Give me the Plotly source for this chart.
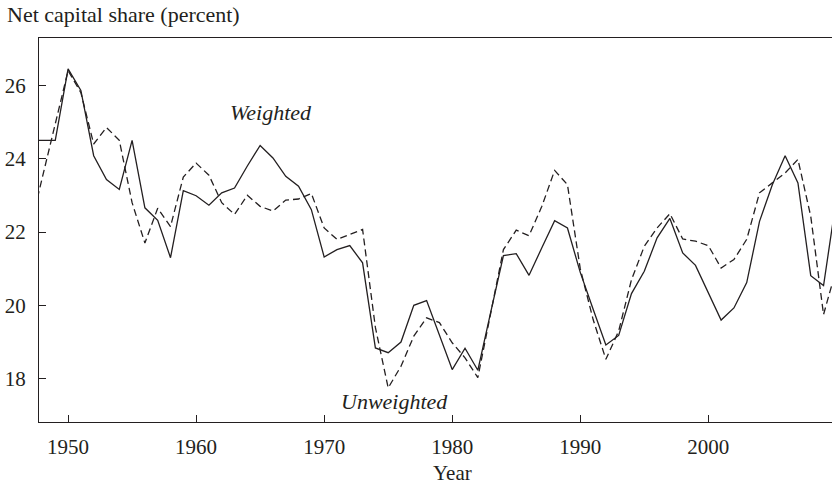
import plotly.graph_objects as go

# Años de la serie
years = list(range(1947, 2011))

# Participación neta del capital, ponderada (línea continua)
weighted = [
    24.5, 24.5, 24.5, 26.45, 25.86, 24.08, 23.43, 23.16, 24.50, 22.66,
    22.32, 21.30, 23.13, 22.99, 22.73, 23.07, 23.20, 23.80, 24.36, 24.02,
    23.52, 23.25, 22.61, 21.32, 21.52, 21.63, 21.16, 18.84, 18.71, 19.00,
    20.00, 20.13, 19.16, 18.25, 18.83, 18.23, 19.80, 21.36, 21.41, 20.82,
    21.57, 22.31, 22.11, 20.90, 19.90, 18.92, 19.18, 20.32, 20.93, 21.84,
    22.37, 21.43, 21.09, 20.34, 19.60, 19.93, 20.62, 22.29, 23.29, 24.08,
    23.34, 20.81, 20.54, 22.90,
]

# Participación neta del capital, no ponderada (línea discontinua)
unweighted = [
    22.05, 23.50, 24.95, 26.40, 25.80, 24.40, 24.85, 24.50, 22.80, 21.70,
    22.65, 22.15, 23.50, 23.88, 23.55, 22.80, 22.48, 23.00, 22.70, 22.57,
    22.87, 22.90, 23.05, 22.11, 21.80, 21.93, 22.07, 19.40, 17.75, 18.34,
    19.16, 19.66, 19.53, 18.98, 18.57, 18.03, 19.80, 21.52, 22.05, 21.90,
    22.70, 23.68, 23.29, 21.00, 19.62, 18.53, 19.30, 20.70, 21.61, 22.11,
    22.50, 21.81, 21.75, 21.63, 21.02, 21.25, 21.80, 23.07, 23.34, 23.61,
    23.98, 22.43, 19.75, 21.00,
]

x_ticks = [1950, 1960, 1970, 1980, 1990, 2000]
y_ticks = [18, 20, 22, 24, 26]

INK = "#231f20"
FONT = "Liberation Serif"
SIZE = 22

fig = go.Figure()
fig.add_trace(go.Scatter(
    x=years, y=weighted, mode="lines", name="Weighted",
    line=dict(color=INK, width=1.3),
))
fig.add_trace(go.Scatter(
    x=years, y=unweighted, mode="lines", name="Unweighted",
    line=dict(color=INK, width=1.3, dash="7px,4px"),
))

# Etiquetas de las series dentro del gráfico
fig.add_annotation(x=1965.84, y=25.26, text="<i>Weighted</i>", showarrow=False,
                   font=dict(size=SIZE, color=INK, family=FONT))
fig.add_annotation(x=1975.5, y=17.39, text="<i>Unweighted</i>", showarrow=False,
                   font=dict(size=SIZE, color=INK, family=FONT))
# Título del eje x
fig.add_annotation(x=1980, y=-0.1328, xref="x", yref="paper", text="Year",
                   showarrow=False, yanchor="middle", borderpad=0,
                   font=dict(size=21, color=INK, family=FONT))

fig.update_layout(
    width=832, height=486,
    margin=dict(l=39, r=0, t=38, b=64),
    paper_bgcolor="white", plot_bgcolor="white",
    showlegend=False,
    font=dict(family=FONT, size=SIZE, color=INK),
    title=dict(text="Net capital share (percent)", x=7 / 832, xanchor="left",
               y=1 - 14 / 486, yanchor="middle", xref="container",
               font=dict(size=SIZE, color=INK, family=FONT)),
    xaxis=dict(range=[1947.73, 2009.66], tickvals=x_ticks, showgrid=False,
               zeroline=False, showline=True, linecolor=INK, linewidth=1.3,
               mirror=True, ticks="inside", ticklen=7, tickwidth=1.3,
               tickcolor=INK, ticklabelstandoff=6,
               tickfont=dict(size=21)),
    yaxis=dict(range=[16.82, 27.29], tickvals=y_ticks, showgrid=False,
               zeroline=False, showline=True, linecolor=INK, linewidth=1.3,
               ticks="inside", ticklen=7, tickwidth=1.3, tickcolor=INK,
               ticklabelstandoff=8, tickfont=dict(size=21)),
)

fig.write_html(
    "out.html",
    config={"displayModeBar": False},
    post_script="document.body.style.margin='0';"
                "document.body.style.overflow='hidden';",
)
